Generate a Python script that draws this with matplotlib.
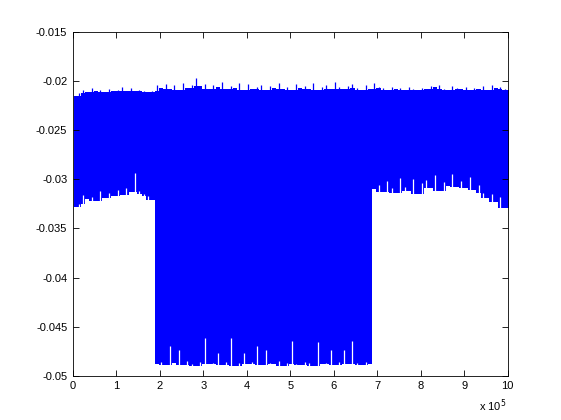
import numpy as np
import matplotlib
matplotlib.use("Agg")
import matplotlib.pyplot as plt

# sample positions (units of 1e5) and signal envelope (units of 1e-3)
sample_pos = 0.03 + np.arange(101) * 0.1

upper = [-21.5, -21.2, -20.9, -21.1, -20.7, -21.0, -20.9, -21.1, -20.8, -21.0,
         -20.9, -20.6, -21.0, -20.7, -21.0, -20.9, -21.0, -21.1, -21.0, -20.4,
         -20.7, -20.3, -20.8, -20.4, -20.9, -20.2, -20.7, -20.4, -19.7, -20.5,
         -20.3, -20.8, -20.4, -20.6, -20.1, -20.8, -20.5, -20.7, -20.2, -20.9,
         -20.3, -20.8, -20.6, -20.4, -20.9, -20.5, -20.7, -20.2, -20.8, -20.6,
         -20.9, -20.3, -20.7, -20.5, -20.8, -20.2, -20.9, -20.6, -20.4, -20.8,
         -20.1, -20.6, -20.8, -20.5, -20.3, -20.7, -20.9, -20.4, -20.8, -20.2,
         -20.6, -20.7, -20.9, -20.6, -20.8, -20.7, -20.9, -20.6, -20.8, -20.9,
         -20.7, -20.8, -20.5, -20.6, -20.4, -20.8, -20.9, -20.5, -20.7, -20.8,
         -20.6, -20.9, -20.7, -20.8, -20.5, -20.9, -20.4, -20.7, -20.6, -20.8,
         -20.9]

lower = [-32.8, -32.5, -31.6, -32.0, -31.8, -32.2, -31.2, -31.9, -31.4, -31.7,
         -31.1, -31.6, -30.9, -31.3, -29.4, -31.2, -31.5, -31.7, -32.1,
         -48.8, -48.6, -48.9, -47.0, -48.7, -47.4, -48.9, -48.5, -48.8, -49.0,
         -48.6, -46.1, -48.8, -48.7, -47.7, -48.9, -48.6, -46.1, -49.0, -48.7,
         -47.7, -48.8, -48.6, -47.0, -48.9, -47.4, -48.7, -48.8, -48.5, -49.0,
         -48.7, -46.4, -48.8, -48.9, -48.6, -48.7, -49.0, -46.6, -48.8, -48.7,
         -47.4, -48.9, -48.6, -47.4, -48.8, -46.4, -48.7, -48.9, -48.6, -48.8,
         -31.0, -30.6, -31.3, -30.2, -30.9, -31.4, -29.9, -30.8, -31.2, -30.0,
         -31.5, -30.4, -30.1, -30.9, -29.6, -31.2, -30.3, -30.7, -29.5, -30.8,
         -30.2, -30.9, -29.8, -31.1, -30.6, -31.4, -31.9, -31.5, -32.3, -31.8,
         -32.9, -32.4]

yticks = [-0.05, -0.045, -0.04, -0.035, -0.03, -0.025, -0.02, -0.015]
ytick_labels = ["-0.05", "-0.045", "-0.04", "-0.035", "-0.03", "-0.025", "-0.02", "-0.015"]
xticks = list(range(11))

plt.rcParams["font.family"] = ["Liberation Sans", "DejaVu Sans"]
plt.rcParams["font.size"] = 8

up = np.array(upper) / 1000
lo = np.array(lower) / 1000

# solid body of the band: lowest neighbouring top, lowest neighbouring bottom (same level)
n = len(up)
body_top = up.copy()
body_bot = lo.copy()
for i in range(n):
    for j in (i - 1, i + 1):
        if 0 <= j < n:
            body_top[i] = min(body_top[i], up[j])
            if abs(lo[j] - lo[i]) < 0.008:
                body_bot[i] = min(body_bot[i], lo[j])

fig = plt.figure(figsize=(5.61, 4.2), dpi=100)
ax = fig.add_axes([0.13, 0.105, 0.775, 0.819])

blue = "#0000FF"
ax.fill_between(sample_pos, body_bot, body_top, step="mid", color=blue, lw=0)
# thin spikes above the body and thin notches into the bottom edge
ax.vlines(sample_pos, body_top, up, color=blue, lw=0.9)
ax.vlines(sample_pos, body_bot, lo, color="white", lw=0.9)

ax.set_xlim(0, 10)
ax.set_ylim(-0.05, -0.015)
ax.set_xticks(xticks)
ax.set_xticklabels([str(t) for t in xticks])
ax.set_yticks(yticks)
ax.set_yticklabels(ytick_labels)
ax.tick_params(direction="in", top=True, right=True, length=4, width=0.6, pad=4)
for s in ax.spines.values():
    s.set_linewidth(0.6)

fig.text(0.853, 0.022, r"x 10$^5$", fontsize=8)

fig.savefig("out.png", dpi=100)
